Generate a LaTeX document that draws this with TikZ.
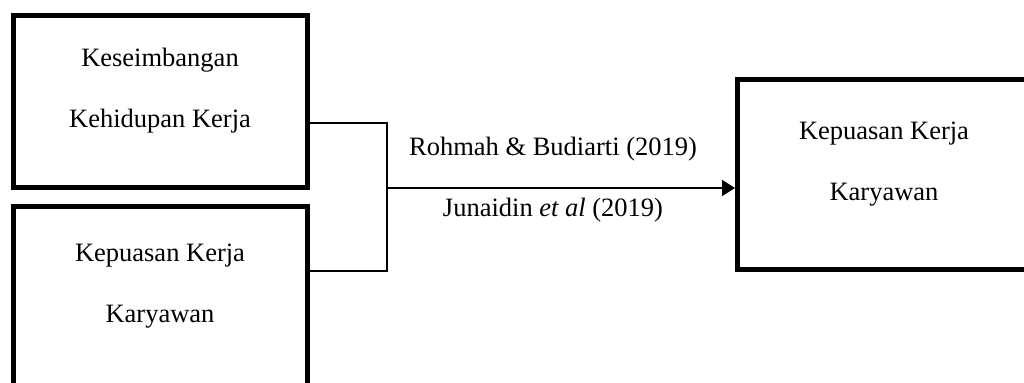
\documentclass[tikz,border=0pt]{standalone}
\usepackage{fontspec}
\setmainfont{Liberation Serif}
\usetikzlibrary{arrows.meta}

\begin{document}
\begin{tikzpicture}[x=0.5pt, y=-0.5pt, >={Triangle[length=6.5pt, width=8pt]},
    kotak/.style={draw, line width=2.5pt, inner sep=0pt, minimum width=146.75pt},
    teks/.style={align=center, inner sep=0pt, font=\fontsize{13.25}{30.5}\selectfont},
    garis/.style={line width=0.85pt}]
    \useasboundingbox (0,0) rectangle (1024,383);
    \node[kotak, minimum height=86pt] (kotakA) at (160.25,102) {};
    \node[kotak, minimum height=94pt] (kotakB) at (160.25,301) {};
    \node[kotak, minimum height=95pt] (kotakC) at (884.25,175) {};
    \node[teks] (teksA) at (160,91) {Keseimbangan\\Kehidupan Kerja};
    \node[teks] (teksB) at (160,286) {Kepuasan Kerja\\Karyawan};
    \node[teks] (teksC) at (884,164.5) {Kepuasan Kerja\\Karyawan};
    \coordinate (cabang) at (387,188);
    \draw[garis] (kotakA.east |- 0,123) -| (cabang) |- (kotakB.east |- 0,271);
    \draw[garis, ->] (cabang) -- (kotakC.west |- cabang)
        node[teks, pos=0.477, above=13pt] (sumberA) {Rohmah \& Budiarti (2019)}
        node[teks, pos=0.477, below=4.5pt] (sumberB) {Junaidin \textit{et al} (2019)};
\end{tikzpicture}
\end{document}
